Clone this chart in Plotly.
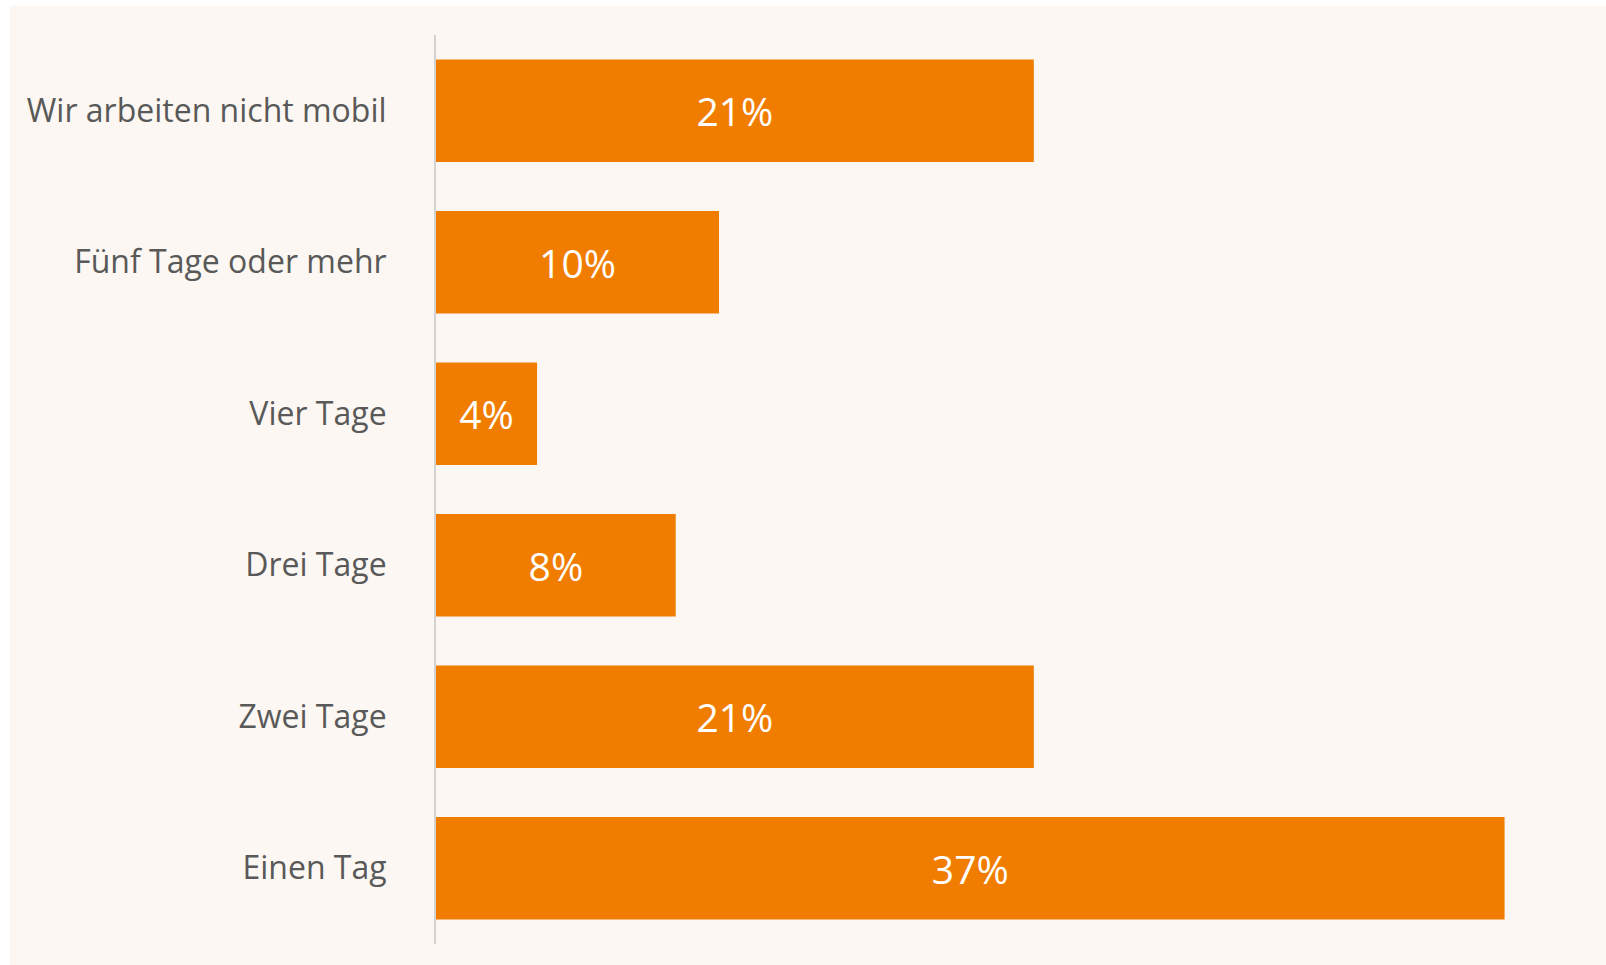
import plotly.graph_objects as go

categories = ['Wir arbeiten nicht mobil', 'Fünf Tage oder mehr', 'Vier Tage',
              'Drei Tage', 'Zwei Tage', 'Einen Tag']
values = [20.7, 9.8, 3.5, 8.3, 20.7, 37.0]
value_labels = ['21%', '10%', '4%', '8%', '21%', '37%']

bar_color = '#F07D00'
bg_color = '#FCF7F2'
label_color = '#595959'

W, H = 1606, 965
ml, mr, mt, mb = 436, 40, 35, 21
pw, ph = W - ml - mr, H - mt - mb

fig = go.Figure(go.Bar(
    y=categories,
    x=values,
    orientation='h',
    marker=dict(color=bar_color, line=dict(width=0)),
    text=value_labels,
    textposition='inside',
    insidetextanchor='middle',
    textangle=0,
    textfont=dict(family='Open Sans', size=39, color='white', weight=500),
    hoverinfo='skip',
))

# cream backdrop with a thin white border on the left and top
fig.add_shape(type='rect', xref='paper', yref='paper', layer='below',
              x0=(10 - ml) / pw, x1=(W - ml) / pw,
              y0=(mt + ph - H) / ph, y1=(mt + ph - 6) / ph,
              fillcolor=bg_color, line=dict(width=0))

fig.update_layout(
    width=W, height=H,
    margin=dict(l=ml, r=mr, t=mt, b=mb, pad=0),
    paper_bgcolor='white',
    plot_bgcolor='rgba(0,0,0,0)',
    bargap=0.325,
    showlegend=False,
    font=dict(family='Open Sans', color=label_color),
)
fig.update_xaxes(range=[0, pw / 28.88], visible=False, fixedrange=True)
fig.update_yaxes(autorange='reversed', showline=True, linecolor='#D3D3D3', linewidth=2,
                 showgrid=False, ticks='', ticklabelstandoff=41,
                 tickfont=dict(family='Open Sans', size=32, color=label_color))

# page sits flush with the window edges
fig.write_html('out.html', config={'displayModeBar': False},
               post_script="document.body.style.margin='0';")
